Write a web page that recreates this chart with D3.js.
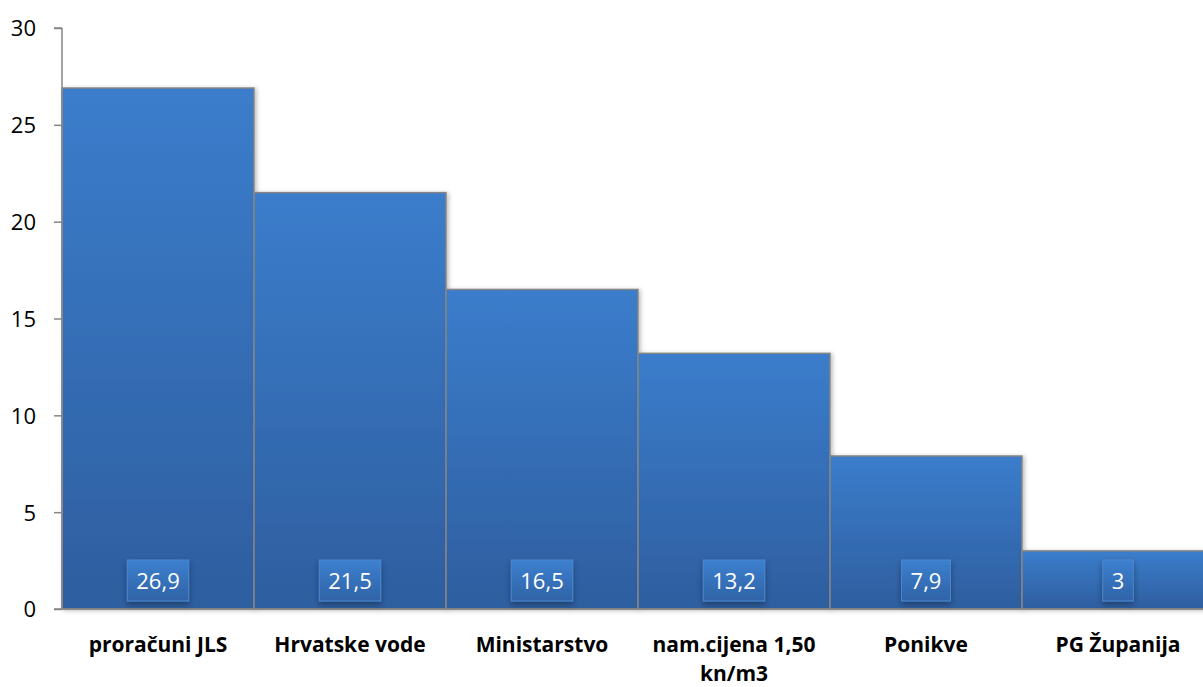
<!DOCTYPE html>
<html><head><meta charset="utf-8">
<script src="https://cdn.jsdelivr.net/npm/d3@7"></script>
<style>body{margin:0;background:#fff}svg{display:block}</style>
</head><body>
<svg id="c" width="1203" height="687"></svg>
<script>
const categories = ["proračuni JLS","Hrvatske vode","Ministarstvo","nam.cijena 1,50 kn/m3","Ponikve","PG Županija"];
const values = [26.9,21.5,16.5,13.2,7.9,3];
const valueLabels = ["26,9","21,5","16,5","13,2","7,9","3"];
const yTicks = [0,5,10,15,20,25,30];

const FONT = "'Open Sans', 'Noto Sans', sans-serif";
const svg = d3.select("#c");
const x = d3.scaleBand().domain(categories).range([62,1214]).padding(0);
const y = d3.scaleLinear().domain([0,30]).range([609,28]);
const defs = svg.append("defs");
const g1 = defs.append("linearGradient").attr("id","barG").attr("x1",0).attr("y1",0).attr("x2",0).attr("y2",1);
g1.append("stop").attr("offset","0%").attr("stop-color","#3b7dcc");
g1.append("stop").attr("offset","100%").attr("stop-color","#2e5e9f");
const g2 = defs.append("linearGradient").attr("id","lblG").attr("x1",0).attr("y1",0).attr("x2",0).attr("y2",1);
g2.append("stop").attr("offset","0%").attr("stop-color","#3d80cf");
g2.append("stop").attr("offset","100%").attr("stop-color","#2f63a6");
const f = defs.append("filter").attr("id","sh").attr("x","-30%").attr("y","-30%").attr("width","160%").attr("height","180%");
f.append("feDropShadow").attr("dx",0).attr("dy",3).attr("stdDeviation",3).attr("flood-color","#000").attr("flood-opacity",0.35);
const f2 = defs.append("filter").attr("id","sh2").attr("x","-10%").attr("y","-10%").attr("width","130%").attr("height","130%");
f2.append("feDropShadow").attr("dx",2).attr("dy",1).attr("stdDeviation",2).attr("flood-color","#000").attr("flood-opacity",0.25);

const data = categories.map((c,i)=>({c,v:values[i],l:valueLabels[i]}));
svg.append("g").selectAll("rect").data(data).join("rect")
  .attr("x",d=>x(d.c)).attr("y",d=>y(d.v))
  .attr("width",x.bandwidth()).attr("height",d=>y(0)-y(d.v))
  .attr("fill","url(#barG)").attr("stroke","#858585").attr("stroke-width",1.5)
  .attr("filter","url(#sh2)");

// axes
const ya = svg.append("g").attr("transform","translate(62,0)")
  .call(d3.axisLeft(y).tickValues(yTicks).tickSize(8).tickPadding(18));
ya.select(".domain").attr("stroke","#868686").attr("stroke-width",1.5).attr("d","M0,"+y(30)+"H-8M0,"+y(30)+"V"+y(0));
ya.selectAll(".tick line").attr("stroke","#868686").attr("stroke-width",1.5);
ya.selectAll(".tick text").attr("font-family",FONT).attr("font-size",22).attr("fill","#000").attr("dy","0.36em");
svg.append("line").attr("x1",54).attr("x2",1214).attr("y1",y(0)).attr("y2",y(0)).attr("stroke","#868686").attr("stroke-width",1.5);

// value labels
const lg = svg.append("g").selectAll("g").data(data).join("g")
  .attr("transform",d=>`translate(${x(d.c)+x.bandwidth()/2},581)`);
lg.append("text").attr("class","vl").text(d=>d.l)
  .attr("text-anchor","middle").attr("dy","0.36em")
  .attr("font-family",FONT).attr("font-size",22).attr("fill","#fff");
lg.each(function(){
  const t = d3.select(this).select("text");
  const w = t.node().getComputedTextLength();
  d3.select(this).insert("rect","text").attr("x",-w/2-9).attr("y",-21).attr("width",w+18).attr("height",41)
    .attr("fill","url(#lblG)").attr("stroke","#4a88d0").attr("stroke-width",1).attr("filter","url(#sh)");
});

// category labels
const cg = svg.append("g").selectAll("text").data(data).join("text")
  .attr("x",d=>x(d.c)+x.bandwidth()/2).attr("y",652)
  .attr("text-anchor","middle").attr("font-family",FONT)
  .attr("font-weight","bold").attr("font-size",21).attr("fill","#000");
cg.each(function(d){
  const el = d3.select(this);
  const parts = d.c === "nam.cijena 1,50 kn/m3" ? ["nam.cijena 1,50","kn/m3"] : [d.c];
  parts.forEach((p,i)=>el.append("tspan").attr("x",x(d.c)+x.bandwidth()/2).attr("dy",i?29:0).text(p));
});
</script>
</body></html>
